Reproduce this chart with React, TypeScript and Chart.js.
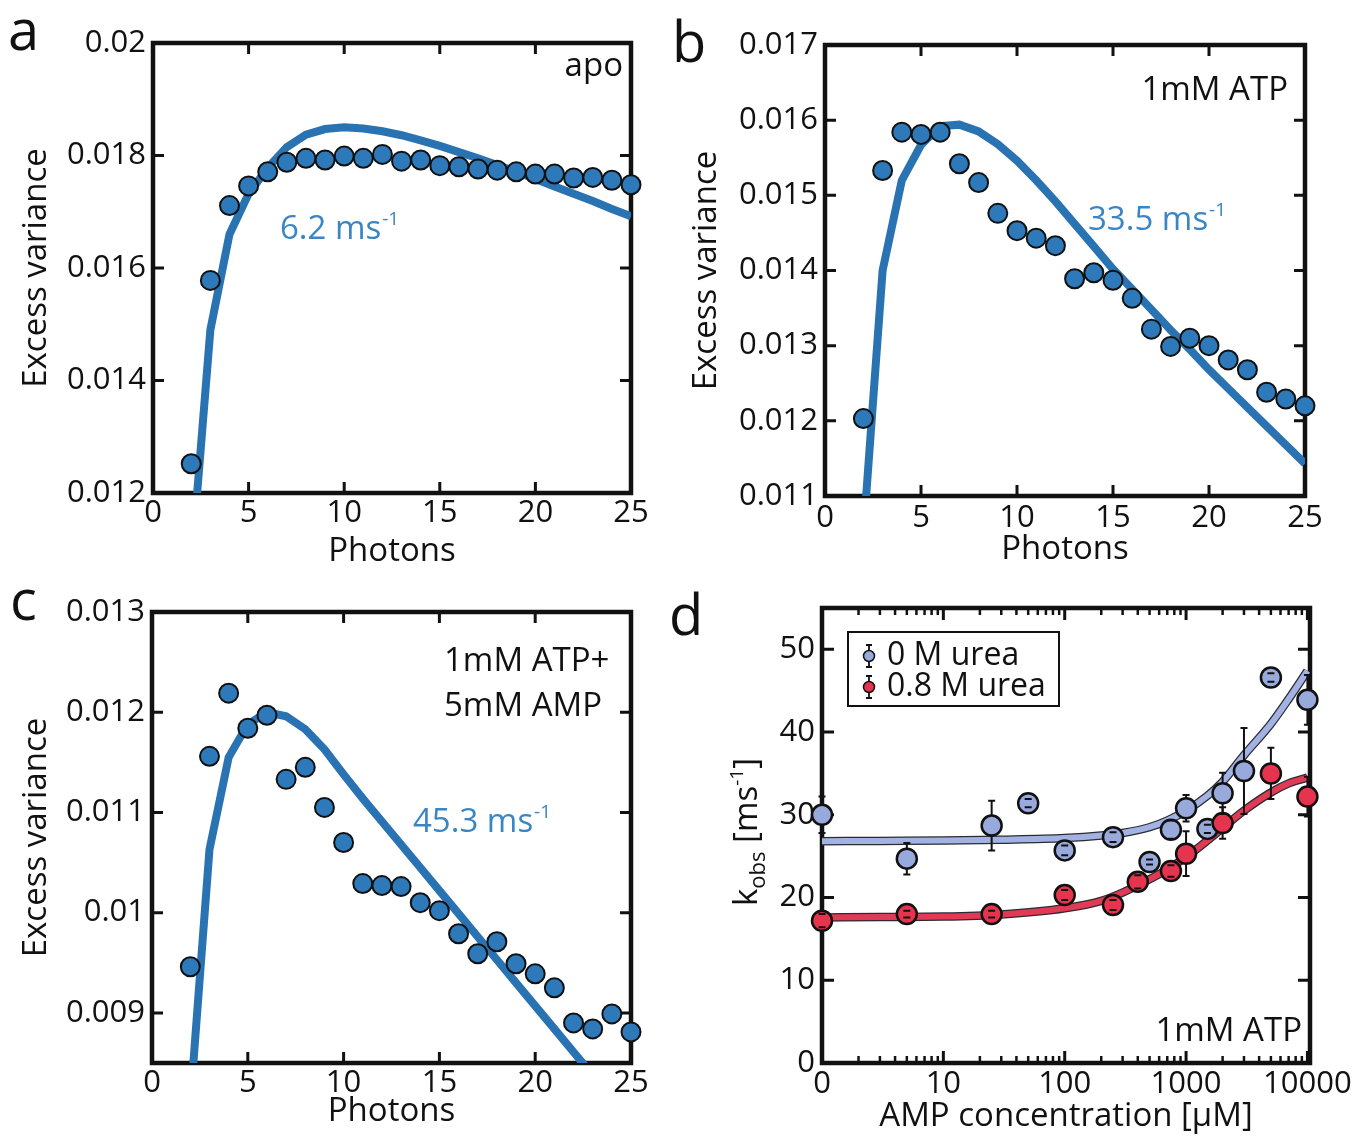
import React, { useEffect, useRef } from 'react';
import { Chart, registerables } from 'chart.js';

Chart.register(...registerables);

const FONT = '"Open Sans", "Noto Sans", "DejaVu Sans", sans-serif';
const INK = '#111111';
const DOT = '#2d79b9';
const FITLINE = '#2a73b2';
const ANNOT = '#3a85c4';
const BLUE_FILL = '#98a9dc';
const BLUE_LINE = '#a1b2e3';
const RED_FILL = '#e6344f';
const RED_LINE = '#e23a55';

// ---------------- data: panels a-c ----------------
const photons = [2, 3, 4, 5, 6, 7, 8, 9, 10, 11, 12, 13, 14, 15, 16, 17, 18, 19, 20, 21, 22, 23, 24, 25];
const photonTicks = [0, 5, 10, 15, 20, 25];

const varianceApo = [0.01252, 0.01578, 0.01711, 0.01746, 0.01771, 0.01788, 0.01795, 0.01792, 0.01799, 0.01795, 0.01802, 0.0179, 0.01792, 0.01782, 0.0178, 0.01776, 0.01774, 0.01771, 0.01767, 0.01767, 0.0176, 0.01761, 0.01756, 0.01748];
const fitApo = [0.0107, 0.0149, 0.0166, 0.01732, 0.01778, 0.01815, 0.01837, 0.01847, 0.0185, 0.01848, 0.01843, 0.01836, 0.01827, 0.01817, 0.01806, 0.01795, 0.01783, 0.01771, 0.01758, 0.01745, 0.01732, 0.01719, 0.01705, 0.01692];
const yTicksApo = [0.012, 0.014, 0.016, 0.018, 0.02];

const varianceAtp = [0.01203, 0.01533, 0.01584, 0.01581, 0.01584, 0.01542, 0.01517, 0.01476, 0.01453, 0.01443, 0.01433, 0.01389, 0.01397, 0.01387, 0.01363, 0.01322, 0.01299, 0.0131, 0.013, 0.01281, 0.01268, 0.01238, 0.01229, 0.0122];
const fitAtp = [0.0105, 0.014, 0.0152, 0.01567, 0.01592, 0.01594, 0.01585, 0.01568, 0.01546, 0.0152, 0.01492, 0.01462, 0.01432, 0.01402, 0.01375, 0.01348, 0.01321, 0.01295, 0.01268, 0.01243, 0.01218, 0.01193, 0.01168, 0.01143];
const yTicksAtp = [0.011, 0.012, 0.013, 0.014, 0.015, 0.016, 0.017];

const varianceAtpAmp = [0.00946, 0.01156, 0.01219, 0.01184, 0.01197, 0.01133, 0.01145, 0.01105, 0.0107, 0.01029, 0.01027, 0.01026, 0.0101, 0.01002, 0.00979, 0.00959, 0.00971, 0.00949, 0.00939, 0.00925, 0.0089, 0.00884, 0.00899, 0.00881];
const fitAtpAmp = [0.0081, 0.01063, 0.01155, 0.01188, 0.012, 0.01196, 0.01183, 0.01163, 0.01138, 0.01114, 0.01091, 0.01068, 0.01045, 0.01022, 0.00999, 0.00976, 0.00953, 0.0093, 0.00907, 0.00884, 0.00861, 0.00838, 0.00815, 0.00792];
const yTicksAtpAmp = [0.009, 0.01, 0.011, 0.012, 0.013];

// ---------------- data: panel d ----------------
const ampUrea0 = [0, 5, 25, 50, 100, 250, 500, 750, 1000, 1500, 2000, 3000, 5000, 10000];
const kUrea0 = [30.0, 24.7, 28.7, 31.4, 25.7, 27.3, 24.3, 28.2, 30.8, 28.3, 32.6, 35.3, 46.6, 43.9];
const errUrea0 = [2.2, 1.9, 3.0, 0.5, 0.6, 0.6, 0.3, 1.1, 1.6, 0.5, 2.5, 5.2, 0.5, 3.0];

const ampUrea08 = [0, 5, 25, 100, 250, 400, 750, 1000, 2000, 5000, 10000];
const kUrea08 = [17.2, 18.0, 18.0, 20.3, 19.1, 21.9, 23.2, 25.3, 29.0, 35.0, 32.2];
const errUrea08 = [0.8, 0.4, 0.4, 0.6, 0.6, 0.8, 0.7, 2.7, 1.9, 3.1, 2.4];

const ampFit = [1, 3, 10, 30, 100, 200, 300, 500, 700, 1000, 1500, 2000, 3000, 5000, 7000, 10000];
const fitUrea0 = [26.8, 26.85, 26.9, 27.0, 27.2, 27.5, 27.8, 28.5, 29.3, 30.5, 32.3, 34.0, 37.2, 41.0, 44.0, 47.4];
const fitUrea08 = [17.6, 17.65, 17.7, 17.95, 18.7, 19.6, 20.6, 22.2, 23.4, 24.9, 26.9, 28.4, 30.5, 32.7, 33.8, 34.5];

const ampTicks = [0, 10, 100, 1000, 10000];
const kTicks = [0, 10, 20, 30, 40, 50];

// "0" AMP is drawn at the left end of the log axis (position 1)
const ampPos = (a: number) => (a === 0 ? 1 : a);
const fmtTick = (v: number) => String(Number(Number(v).toFixed(4)));

const TICK_SIZE = 31;
const TITLE_SIZE = 33;

type TextItem = {
  text: string;
  sup?: string;
  x: number;
  y: number;
  size?: number;
  color?: string;
  align?: 'left' | 'right';
};

type ErrSet = { xs: number[]; ys: number[]; errs: number[]; beforeIndex: number };

type Decor = {
  tickLen: number;
  minorX?: number[];
  minorLen?: number;
  texts: TextItem[];
  errSets?: ErrSet[];
  legend?: { x: number; y: number; w: number; h: number; markerX: number; textX: number; rows: { label: string; color: string; y: number }[] };
  rotTitle?: { x: number; y: number };
};

function drawRich(ctx: CanvasRenderingContext2D, it: TextItem) {
  const size = it.size ?? TITLE_SIZE;
  const supSize = Math.round(size * 0.58);
  ctx.font = `${size}px ${FONT}`;
  const w1 = ctx.measureText(it.text).width;
  let w2 = 0;
  if (it.sup) {
    ctx.font = `${supSize}px ${FONT}`;
    w2 = ctx.measureText(it.sup).width + 1;
  }
  const x0 = it.align === 'right' ? it.x - w1 - w2 : it.x;
  ctx.fillStyle = it.color ?? INK;
  ctx.textAlign = 'left';
  ctx.textBaseline = 'alphabetic';
  ctx.font = `${size}px ${FONT}`;
  ctx.fillText(it.text, x0, it.y);
  if (it.sup) {
    ctx.font = `${supSize}px ${FONT}`;
    ctx.fillText(it.sup, x0 + w1 + 1, it.y - size * 0.42);
  }
}

function makeDecor(cfg: Decor) {
  return {
    id: 'decor',
    beforeDatasetsDraw(chart: any) {
      const { ctx, chartArea: ca } = chart;
      const xs = chart.scales.x;
      const ys = chart.scales.y;
      ctx.save();
      ctx.strokeStyle = INK;
      ctx.lineCap = 'butt';
      ctx.lineWidth = 3;
      ctx.beginPath();
      for (const t of xs.ticks) {
        const p = xs.getPixelForValue(t.value);
        ctx.moveTo(p, ca.bottom);
        ctx.lineTo(p, ca.bottom - cfg.tickLen);
        ctx.moveTo(p, ca.top);
        ctx.lineTo(p, ca.top + cfg.tickLen);
      }
      for (const t of ys.ticks) {
        const p = ys.getPixelForValue(t.value);
        ctx.moveTo(ca.left, p);
        ctx.lineTo(ca.left + cfg.tickLen, p);
        ctx.moveTo(ca.right, p);
        ctx.lineTo(ca.right - cfg.tickLen, p);
      }
      ctx.stroke();
      if (cfg.minorX) {
        const ml = cfg.minorLen ?? 7;
        ctx.lineWidth = 2.5;
        ctx.beginPath();
        for (const v of cfg.minorX) {
          const p = xs.getPixelForValue(v);
          ctx.moveTo(p, ca.bottom);
          ctx.lineTo(p, ca.bottom - ml);
          ctx.moveTo(p, ca.top);
          ctx.lineTo(p, ca.top + ml);
        }
        ctx.stroke();
      }
      ctx.lineWidth = 4.5;
      ctx.strokeRect(ca.left, ca.top, ca.right - ca.left, ca.bottom - ca.top);
      ctx.restore();
    },
    beforeDatasetDraw(chart: any, args: any) {
      if (!cfg.errSets) return;
      const set = cfg.errSets.find((s) => s.beforeIndex === args.index);
      if (!set) return;
      const { ctx } = chart;
      const xs = chart.scales.x;
      const ys = chart.scales.y;
      ctx.save();
      ctx.strokeStyle = INK;
      ctx.lineWidth = 2;
      ctx.beginPath();
      set.xs.forEach((xv, i) => {
        const px = xs.getPixelForValue(ampPos(xv));
        ctx.moveTo(px, ys.getPixelForValue(set.ys[i] + set.errs[i]));
        ctx.lineTo(px, ys.getPixelForValue(set.ys[i] - set.errs[i]));
      });
      ctx.stroke();
      ctx.restore();
    },
    afterDatasetsDraw(chart: any) {
      if (!cfg.errSets) return;
      const { ctx } = chart;
      const xs = chart.scales.x;
      const ys = chart.scales.y;
      ctx.save();
      ctx.strokeStyle = INK;
      ctx.lineWidth = 2;
      ctx.beginPath();
      for (const set of cfg.errSets) {
        set.xs.forEach((xv, i) => {
          const px = xs.getPixelForValue(ampPos(xv));
          for (const sgn of [1, -1]) {
            const py = ys.getPixelForValue(set.ys[i] + sgn * set.errs[i]);
            ctx.moveTo(px - 3.5, py);
            ctx.lineTo(px + 3.5, py);
          }
        });
      }
      ctx.stroke();
      ctx.restore();
    },
    afterDraw(chart: any) {
      const { ctx } = chart;
      ctx.save();
      for (const t of cfg.texts) drawRich(ctx, t);
      if (cfg.legend) {
        const lg = cfg.legend;
        ctx.strokeStyle = INK;
        ctx.lineWidth = 2;
        ctx.fillStyle = '#ffffff';
        ctx.fillRect(lg.x, lg.y, lg.w, lg.h);
        ctx.strokeRect(lg.x, lg.y, lg.w, lg.h);
        for (const r of lg.rows) {
          ctx.lineWidth = 1.8;
          ctx.beginPath();
          ctx.moveTo(lg.markerX, r.y - 11);
          ctx.lineTo(lg.markerX, r.y + 11);
          ctx.moveTo(lg.markerX - 3, r.y - 11);
          ctx.lineTo(lg.markerX + 3, r.y - 11);
          ctx.moveTo(lg.markerX - 3, r.y + 11);
          ctx.lineTo(lg.markerX + 3, r.y + 11);
          ctx.stroke();
          ctx.beginPath();
          ctx.arc(lg.markerX, r.y, 5.5, 0, Math.PI * 2);
          ctx.fillStyle = r.color;
          ctx.fill();
          ctx.lineWidth = 1.5;
          ctx.stroke();
          ctx.fillStyle = INK;
          ctx.font = `32px ${FONT}`;
          ctx.textAlign = 'left';
          ctx.textBaseline = 'middle';
          ctx.fillText(r.label, lg.textX, r.y);
        }
      }
      if (cfg.rotTitle) {
        const pieces = [
          { t: 'k', s: 33, dy: 0 },
          { t: 'obs', s: 22, dy: 8 },
          { t: ' [ms', s: 33, dy: 0 },
          { t: '-1', s: 19, dy: -14 },
          { t: ']', s: 33, dy: 0 },
        ];
        let total = 0;
        const widths = pieces.map((p) => {
          ctx.font = `${p.s}px ${FONT}`;
          const w = ctx.measureText(p.t).width;
          total += w;
          return w;
        });
        ctx.translate(cfg.rotTitle.x, cfg.rotTitle.y);
        ctx.rotate(-Math.PI / 2);
        ctx.fillStyle = INK;
        ctx.textAlign = 'left';
        ctx.textBaseline = 'alphabetic';
        let cx = -total / 2;
        pieces.forEach((p, i) => {
          ctx.font = `${p.s}px ${FONT}`;
          ctx.fillText(p.t, cx, p.dy);
          cx += widths[i];
        });
      }
      ctx.restore();
    },
  };
}

const tickFont = { family: FONT, size: TICK_SIZE };
const titleFont = { family: FONT, size: TITLE_SIZE };

type PhotonPanel = {
  values: number[];
  fit: number[];
  yMin: number;
  yMax: number;
  yTicks: number[];
  pad: { left: number; top: number; right: number; bottom: number };
  yWidth: number;
  xHeight: number;
  yTickPad: number;
  xTickPad: number;
  yTitlePad: number;
  xTitlePad: number;
  texts: TextItem[];
};

function photonConfig(p: PhotonPanel): any {
  return {
    type: 'scatter',
    data: {
      datasets: [
        {
          label: 'data',
          data: photons.map((x, i) => ({ x, y: p.values[i] })),
          backgroundColor: DOT,
          borderColor: INK,
          borderWidth: 2,
          pointRadius: 9.5,
          pointHoverRadius: 9.5,
          clip: false,
          order: 1,
        },
        {
          label: 'fit',
          data: photons.map((x, i) => ({ x, y: p.fit[i] })),
          showLine: true,
          borderColor: FITLINE,
          backgroundColor: FITLINE,
          borderWidth: 8,
          pointRadius: 0,
          pointHoverRadius: 0,
          tension: 0,
          fill: false,
          order: 2,
        },
      ],
    },
    options: {
      responsive: false,
      animation: false,
      devicePixelRatio: 1,
      events: [],
      layout: { padding: p.pad },
      plugins: { legend: { display: false }, tooltip: { enabled: false } },
      scales: {
        x: {
          type: 'linear',
          min: 0,
          max: 25,
          afterBuildTicks: (s: any) => {
            s.ticks = photonTicks.map((v) => ({ value: v }));
          },
          afterFit: (s: any) => {
            s.height = p.xHeight;
          },
          grid: { display: false, drawTicks: false },
          border: { display: false },
          ticks: { font: tickFont, color: INK, padding: p.xTickPad, autoSkip: false, maxRotation: 0, callback: (v: number) => fmtTick(v) },
          title: { display: true, text: 'Photons', font: titleFont, color: INK, padding: { top: 0, bottom: p.xTitlePad } },
        },
        y: {
          type: 'linear',
          min: p.yMin,
          max: p.yMax,
          afterBuildTicks: (s: any) => {
            s.ticks = p.yTicks.map((v) => ({ value: v }));
          },
          afterFit: (s: any) => {
            s.width = p.yWidth;
          },
          grid: { display: false, drawTicks: false },
          border: { display: false },
          ticks: { font: tickFont, color: INK, padding: p.yTickPad, autoSkip: false, callback: (v: number) => fmtTick(v) },
          title: { display: true, text: 'Excess variance', font: titleFont, color: INK, padding: { top: p.yTitlePad, bottom: 0 } },
        },
      },
    },
    plugins: [makeDecor({ tickLen: 11, texts: p.texts })],
  };
}

function minorLogTicks(): number[] {
  const out: number[] = [];
  for (let d = 1; d <= 1000; d *= 10) {
    for (let k = 2; k <= 9; k++) out.push(k * d);
  }
  return out;
}

function ampConfig(): any {
  return {
    type: 'scatter',
    data: {
      datasets: [
        {
          label: '0 M urea',
          data: ampUrea0.map((a, i) => ({ x: ampPos(a), y: kUrea0[i] })),
          backgroundColor: BLUE_FILL,
          borderColor: INK,
          borderWidth: 2.5,
          pointRadius: 10,
          pointHoverRadius: 10,
          clip: false,
          order: 2,
        },
        {
          label: '0.8 M urea',
          data: ampUrea08.map((a, i) => ({ x: ampPos(a), y: kUrea08[i] })),
          backgroundColor: RED_FILL,
          borderColor: INK,
          borderWidth: 2.5,
          pointRadius: 10,
          pointHoverRadius: 10,
          clip: false,
          order: 1,
        },
        {
          label: 'fit 0 outline',
          data: ampFit.map((a, i) => ({ x: a, y: fitUrea0[i] })),
          showLine: true,
          borderColor: '#2b2b33',
          borderWidth: 8.5,
          pointRadius: 0,
          cubicInterpolationMode: 'monotone',
          order: 10,
        },
        {
          label: 'fit 0',
          data: ampFit.map((a, i) => ({ x: a, y: fitUrea0[i] })),
          showLine: true,
          borderColor: BLUE_LINE,
          borderWidth: 6,
          pointRadius: 0,
          cubicInterpolationMode: 'monotone',
          order: 9,
        },
        {
          label: 'fit 0.8 outline',
          data: ampFit.map((a, i) => ({ x: a, y: fitUrea08[i] })),
          showLine: true,
          borderColor: '#2b2b33',
          borderWidth: 8.5,
          pointRadius: 0,
          cubicInterpolationMode: 'monotone',
          order: 8,
        },
        {
          label: 'fit 0.8',
          data: ampFit.map((a, i) => ({ x: a, y: fitUrea08[i] })),
          showLine: true,
          borderColor: RED_LINE,
          borderWidth: 6,
          pointRadius: 0,
          cubicInterpolationMode: 'monotone',
          order: 7,
        },
      ],
    },
    options: {
      responsive: false,
      animation: false,
      devicePixelRatio: 1,
      events: [],
      layout: { padding: { left: 670, top: 608, right: 47, bottom: 0 } },
      plugins: { legend: { display: false }, tooltip: { enabled: false } },
      scales: {
        x: {
          type: 'logarithmic',
          min: 1,
          max: 10500,
          afterBuildTicks: (s: any) => {
            s.ticks = ampTicks.map((v) => ({ value: ampPos(v) }));
          },
          afterFit: (s: any) => {
            s.height = 77;
          },
          grid: { display: false, drawTicks: false },
          border: { display: false },
          ticks: {
            font: tickFont,
            color: INK,
            padding: 3,
            autoSkip: false,
            maxRotation: 0,
            callback: (v: number) => (v === 1 ? '0' : String(v)),
          },
          title: { display: true, text: 'AMP concentration [μM]', font: titleFont, color: INK, padding: { top: 0, bottom: 4 } },
        },
        y: {
          type: 'linear',
          min: 0,
          max: 55,
          afterBuildTicks: (s: any) => {
            s.ticks = kTicks.map((v) => ({ value: v }));
          },
          afterFit: (s: any) => {
            s.width = 152;
          },
          grid: { display: false, drawTicks: false },
          border: { display: false },
          ticks: { font: tickFont, color: INK, padding: 7, autoSkip: false, callback: (v: number) => String(v) },
          title: { display: false },
        },
      },
    },
    plugins: [
      makeDecor({
        tickLen: 12,
        minorX: minorLogTicks(),
        minorLen: 7,
        texts: [
          { text: 'd', x: 669, y: 635, size: 56 },
          { text: '1mM ATP', x: 1302, y: 1041, align: 'right' },
        ],
        errSets: [
          { xs: ampUrea0, ys: kUrea0, errs: errUrea0, beforeIndex: 0 },
          { xs: ampUrea08, ys: kUrea08, errs: errUrea08, beforeIndex: 1 },
        ],
        legend: {
          x: 848,
          y: 632,
          w: 211,
          h: 74,
          markerX: 869,
          textX: 887,
          rows: [
            { label: '0 M urea', color: BLUE_FILL, y: 656 },
            { label: '0.8 M urea', color: RED_FILL, y: 687 },
          ],
        },
        rotTitle: { x: 757, y: 832 },
      }),
    ],
  };
}

export default function App() {
  const refA = useRef<HTMLCanvasElement>(null);
  const refB = useRef<HTMLCanvasElement>(null);
  const refC = useRef<HTMLCanvasElement>(null);
  const refD = useRef<HTMLCanvasElement>(null);

  useEffect(() => {
    const charts: Chart[] = [];
    charts.push(
      new Chart(
        refA.current!,
        photonConfig({
          values: varianceApo,
          fit: fitApo,
          yMin: 0.012,
          yMax: 0.02,
          yTicks: yTicksApo,
          pad: { left: 0, top: 43, right: 726, bottom: 560 },
          yWidth: 153,
          xHeight: 87,
          yTickPad: 7,
          xTickPad: 2,
          yTitlePad: 17,
          xTitlePad: 9,
          texts: [
            { text: 'a', x: 8, y: 50, size: 56 },
            { text: 'apo', x: 623, y: 76, align: 'right' },
            { text: '6.2 ms', sup: '-1', x: 280, y: 239, color: ANNOT },
          ],
        })
      )
    );
    charts.push(
      new Chart(
        refB.current!,
        photonConfig({
          values: varianceAtp,
          fit: fitAtp,
          yMin: 0.011,
          yMax: 0.017,
          yTicks: yTicksAtp,
          pad: { left: 670, top: 45, right: 52, bottom: 565 },
          yWidth: 155,
          xHeight: 79,
          yTickPad: 7,
          xTickPad: 4,
          yTitlePad: 17,
          xTitlePad: 6,
          texts: [
            { text: 'b', x: 672, y: 62, size: 56 },
            { text: '1mM ATP', x: 1288, y: 100, align: 'right' },
            { text: '33.5 ms', sup: '-1', x: 1088, y: 230, color: ANNOT },
          ],
        })
      )
    );
    charts.push(
      new Chart(
        refC.current!,
        photonConfig({
          values: varianceAtpAmp,
          fit: fitAtpAmp,
          yMin: 0.0085,
          yMax: 0.013,
          yTicks: yTicksAtpAmp,
          pad: { left: 0, top: 612, right: 726, bottom: 0 },
          yWidth: 152,
          xHeight: 77,
          yTickPad: 7,
          xTickPad: 2,
          yTitlePad: 17,
          xTitlePad: 9,
          texts: [
            { text: 'c', x: 10, y: 620, size: 56 },
            { text: '1mM ATP+', x: 444, y: 671 },
            { text: '5mM AMP', x: 444, y: 716 },
            { text: '45.3 ms', sup: '-1', x: 413, y: 832, color: ANNOT },
          ],
        })
      )
    );
    charts.push(new Chart(refD.current!, ampConfig()));
    return () => charts.forEach((c) => c.destroy());
  }, []);

  const refs = [refA, refB, refC, refD];
  return (
    <div style={{ position: 'absolute', left: 0, top: 0, width: 1357, height: 1140, background: '#ffffff', overflow: 'hidden' }}>
      {refs.map((r, i) => (
        <canvas
          key={i}
          ref={r}
          width={1357}
          height={1140}
          style={{ position: 'absolute', left: 0, top: 0, width: 1357, height: 1140 }}
        />
      ))}
    </div>
  );
}
